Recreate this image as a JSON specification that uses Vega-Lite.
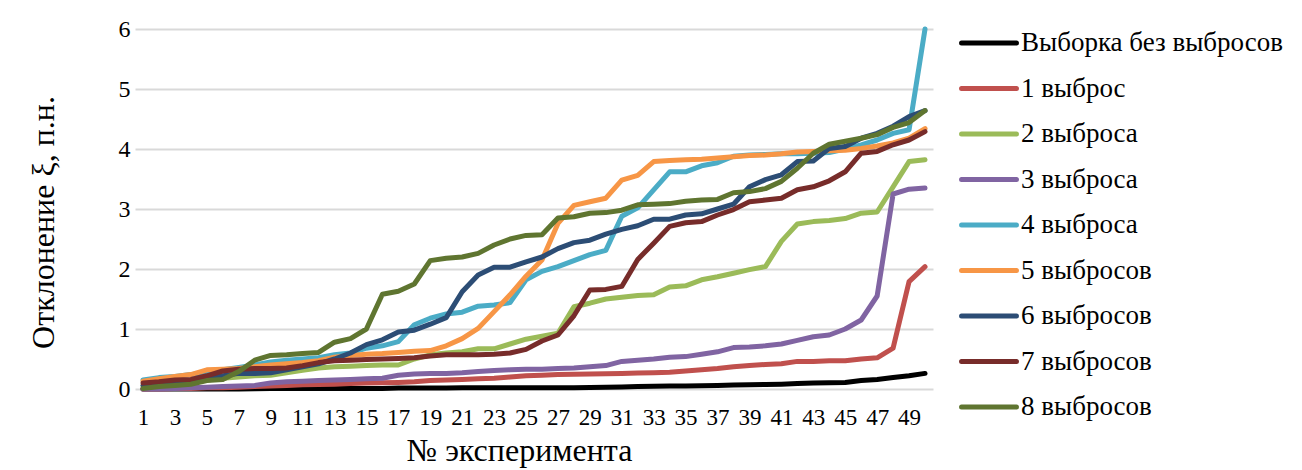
{
"$schema":"https://vega.github.io/schema/vega-lite/v6.json",
"width":798,"height":360,
"autosize":{"type":"none"},
"padding":{"left":135,"top":29,"right":369,"bottom":81},
"background":"white",
"config":{"view":{"stroke":null},"font":"Liberation Serif"},
"datasets":{"d":[
{"s":"Выборка без выбросов","x":1,"v":0},{"s":"Выборка без выбросов","x":2,"v":0},{"s":"Выборка без выбросов","x":3,"v":0},{"s":"Выборка без выбросов","x":4,"v":0},{"s":"Выборка без выбросов","x":5,"v":0},{"s":"Выборка без выбросов","x":6,"v":0},{"s":"Выборка без выбросов","x":7,"v":0},{"s":"Выборка без выбросов","x":8,"v":0.005},{"s":"Выборка без выбросов","x":9,"v":0.01},{"s":"Выборка без выбросов","x":10,"v":0.01},
{"s":"Выборка без выбросов","x":11,"v":0.01},{"s":"Выборка без выбросов","x":12,"v":0.01},{"s":"Выборка без выбросов","x":13,"v":0.01},{"s":"Выборка без выбросов","x":14,"v":0.01},{"s":"Выборка без выбросов","x":15,"v":0.01},{"s":"Выборка без выбросов","x":16,"v":0.01},{"s":"Выборка без выбросов","x":17,"v":0.015},{"s":"Выборка без выбросов","x":18,"v":0.015},{"s":"Выборка без выбросов","x":19,"v":0.015},{"s":"Выборка без выбросов","x":20,"v":0.015},
{"s":"Выборка без выбросов","x":21,"v":0.02},{"s":"Выборка без выбросов","x":22,"v":0.02},{"s":"Выборка без выбросов","x":23,"v":0.02},{"s":"Выборка без выбросов","x":24,"v":0.02},{"s":"Выборка без выбросов","x":25,"v":0.02},{"s":"Выборка без выбросов","x":26,"v":0.02},{"s":"Выборка без выбросов","x":27,"v":0.02},{"s":"Выборка без выбросов","x":28,"v":0.02},{"s":"Выборка без выбросов","x":29,"v":0.025},{"s":"Выборка без выбросов","x":30,"v":0.03},
{"s":"Выборка без выбросов","x":31,"v":0.035},{"s":"Выборка без выбросов","x":32,"v":0.04},{"s":"Выборка без выбросов","x":33,"v":0.045},{"s":"Выборка без выбросов","x":34,"v":0.05},{"s":"Выборка без выбросов","x":35,"v":0.05},{"s":"Выборка без выбросов","x":36,"v":0.055},{"s":"Выборка без выбросов","x":37,"v":0.06},{"s":"Выборка без выбросов","x":38,"v":0.065},{"s":"Выборка без выбросов","x":39,"v":0.07},{"s":"Выборка без выбросов","x":40,"v":0.075},
{"s":"Выборка без выбросов","x":41,"v":0.08},{"s":"Выборка без выбросов","x":42,"v":0.09},{"s":"Выборка без выбросов","x":43,"v":0.1},{"s":"Выборка без выбросов","x":44,"v":0.105},{"s":"Выборка без выбросов","x":45,"v":0.11},{"s":"Выборка без выбросов","x":46,"v":0.14},{"s":"Выборка без выбросов","x":47,"v":0.16},{"s":"Выборка без выбросов","x":48,"v":0.19},{"s":"Выборка без выбросов","x":49,"v":0.22},{"s":"Выборка без выбросов","x":50,"v":0.26},
{"s":"1 выброс","x":1,"v":0},{"s":"1 выброс","x":2,"v":0},{"s":"1 выброс","x":3,"v":0.01},{"s":"1 выброс","x":4,"v":0.01},{"s":"1 выброс","x":5,"v":0.02},{"s":"1 выброс","x":6,"v":0.02},{"s":"1 выброс","x":7,"v":0.03},{"s":"1 выброс","x":8,"v":0.04},{"s":"1 выброс","x":9,"v":0.05},{"s":"1 выброс","x":10,"v":0.06},
{"s":"1 выброс","x":11,"v":0.07},{"s":"1 выброс","x":12,"v":0.075},{"s":"1 выброс","x":13,"v":0.08},{"s":"1 выброс","x":14,"v":0.09},{"s":"1 выброс","x":15,"v":0.1},{"s":"1 выброс","x":16,"v":0.105},{"s":"1 выброс","x":17,"v":0.11},{"s":"1 выброс","x":18,"v":0.12},{"s":"1 выброс","x":19,"v":0.14},{"s":"1 выброс","x":20,"v":0.15},
{"s":"1 выброс","x":21,"v":0.16},{"s":"1 выброс","x":22,"v":0.17},{"s":"1 выброс","x":23,"v":0.18},{"s":"1 выброс","x":24,"v":0.2},{"s":"1 выброс","x":25,"v":0.22},{"s":"1 выброс","x":26,"v":0.23},{"s":"1 выброс","x":27,"v":0.24},{"s":"1 выброс","x":28,"v":0.245},{"s":"1 выброс","x":29,"v":0.25},{"s":"1 выброс","x":30,"v":0.255},
{"s":"1 выброс","x":31,"v":0.26},{"s":"1 выброс","x":32,"v":0.265},{"s":"1 выброс","x":33,"v":0.27},{"s":"1 выброс","x":34,"v":0.28},{"s":"1 выброс","x":35,"v":0.3},{"s":"1 выброс","x":36,"v":0.32},{"s":"1 выброс","x":37,"v":0.34},{"s":"1 выброс","x":38,"v":0.37},{"s":"1 выброс","x":39,"v":0.39},{"s":"1 выброс","x":40,"v":0.41},
{"s":"1 выброс","x":41,"v":0.42},{"s":"1 выброс","x":42,"v":0.46},{"s":"1 выброс","x":43,"v":0.46},{"s":"1 выброс","x":44,"v":0.47},{"s":"1 выброс","x":45,"v":0.47},{"s":"1 выброс","x":46,"v":0.5},{"s":"1 выброс","x":47,"v":0.52},{"s":"1 выброс","x":48,"v":0.68},{"s":"1 выброс","x":49,"v":1.79},{"s":"1 выброс","x":50,"v":2.04},
{"s":"2 выброса","x":1,"v":0.05},{"s":"2 выброса","x":2,"v":0.07},{"s":"2 выброса","x":3,"v":0.1},{"s":"2 выброса","x":4,"v":0.12},{"s":"2 выброса","x":5,"v":0.15},{"s":"2 выброса","x":6,"v":0.18},{"s":"2 выброса","x":7,"v":0.2},{"s":"2 выброса","x":8,"v":0.22},{"s":"2 выброса","x":9,"v":0.23},{"s":"2 выброса","x":10,"v":0.27},
{"s":"2 выброса","x":11,"v":0.31},{"s":"2 выброса","x":12,"v":0.35},{"s":"2 выброса","x":13,"v":0.37},{"s":"2 выброса","x":14,"v":0.38},{"s":"2 выброса","x":15,"v":0.39},{"s":"2 выброса","x":16,"v":0.4},{"s":"2 выброса","x":17,"v":0.4},{"s":"2 выброса","x":18,"v":0.5},{"s":"2 выброса","x":19,"v":0.57},{"s":"2 выброса","x":20,"v":0.6},
{"s":"2 выброса","x":21,"v":0.62},{"s":"2 выброса","x":22,"v":0.67},{"s":"2 выброса","x":23,"v":0.67},{"s":"2 выброса","x":24,"v":0.75},{"s":"2 выброса","x":25,"v":0.83},{"s":"2 выброса","x":26,"v":0.88},{"s":"2 выброса","x":27,"v":0.93},{"s":"2 выброса","x":28,"v":1.37},{"s":"2 выброса","x":29,"v":1.43},{"s":"2 выброса","x":30,"v":1.5},
{"s":"2 выброса","x":31,"v":1.53},{"s":"2 выброса","x":32,"v":1.56},{"s":"2 выброса","x":33,"v":1.57},{"s":"2 выброса","x":34,"v":1.7},{"s":"2 выброса","x":35,"v":1.72},{"s":"2 выброса","x":36,"v":1.82},{"s":"2 выброса","x":37,"v":1.87},{"s":"2 выброса","x":38,"v":1.93},{"s":"2 выброса","x":39,"v":1.99},{"s":"2 выброса","x":40,"v":2.04},
{"s":"2 выброса","x":41,"v":2.46},{"s":"2 выброса","x":42,"v":2.75},{"s":"2 выброса","x":43,"v":2.79},{"s":"2 выброса","x":44,"v":2.81},{"s":"2 выброса","x":45,"v":2.84},{"s":"2 выброса","x":46,"v":2.93},{"s":"2 выброса","x":47,"v":2.95},{"s":"2 выброса","x":48,"v":3.37},{"s":"2 выброса","x":49,"v":3.79},{"s":"2 выброса","x":50,"v":3.82},
{"s":"3 выброса","x":1,"v":0},{"s":"3 выброса","x":2,"v":0},{"s":"3 выброса","x":3,"v":0.01},{"s":"3 выброса","x":4,"v":0.02},{"s":"3 выброса","x":5,"v":0.03},{"s":"3 выброса","x":6,"v":0.04},{"s":"3 выброса","x":7,"v":0.05},{"s":"3 выброса","x":8,"v":0.06},{"s":"3 выброса","x":9,"v":0.1},{"s":"3 выброса","x":10,"v":0.12},
{"s":"3 выброса","x":11,"v":0.13},{"s":"3 выброса","x":12,"v":0.14},{"s":"3 выброса","x":13,"v":0.15},{"s":"3 выброса","x":14,"v":0.16},{"s":"3 выброса","x":15,"v":0.17},{"s":"3 выброса","x":16,"v":0.18},{"s":"3 выброса","x":17,"v":0.23},{"s":"3 выброса","x":18,"v":0.25},{"s":"3 выброса","x":19,"v":0.26},{"s":"3 выброса","x":20,"v":0.26},
{"s":"3 выброса","x":21,"v":0.27},{"s":"3 выброса","x":22,"v":0.29},{"s":"3 выброса","x":23,"v":0.31},{"s":"3 выброса","x":24,"v":0.32},{"s":"3 выброса","x":25,"v":0.33},{"s":"3 выброса","x":26,"v":0.33},{"s":"3 выброса","x":27,"v":0.34},{"s":"3 выброса","x":28,"v":0.35},{"s":"3 выброса","x":29,"v":0.37},{"s":"3 выброса","x":30,"v":0.39},
{"s":"3 выброса","x":31,"v":0.46},{"s":"3 выброса","x":32,"v":0.48},{"s":"3 выброса","x":33,"v":0.5},{"s":"3 выброса","x":34,"v":0.53},{"s":"3 выброса","x":35,"v":0.54},{"s":"3 выброса","x":36,"v":0.58},{"s":"3 выброса","x":37,"v":0.62},{"s":"3 выброса","x":38,"v":0.69},{"s":"3 выброса","x":39,"v":0.7},{"s":"3 выброса","x":40,"v":0.72},
{"s":"3 выброса","x":41,"v":0.75},{"s":"3 выброса","x":42,"v":0.81},{"s":"3 выброса","x":43,"v":0.87},{"s":"3 выброса","x":44,"v":0.9},{"s":"3 выброса","x":45,"v":1.0},{"s":"3 выброса","x":46,"v":1.15},{"s":"3 выброса","x":47,"v":1.55},{"s":"3 выброса","x":48,"v":3.25},{"s":"3 выброса","x":49,"v":3.33},{"s":"3 выброса","x":50,"v":3.35},
{"s":"4 выброса","x":1,"v":0.15},{"s":"4 выброса","x":2,"v":0.19},{"s":"4 выброса","x":3,"v":0.21},{"s":"4 выброса","x":4,"v":0.24},{"s":"4 выброса","x":5,"v":0.28},{"s":"4 выброса","x":6,"v":0.32},{"s":"4 выброса","x":7,"v":0.36},{"s":"4 выброса","x":8,"v":0.4},{"s":"4 выброса","x":9,"v":0.45},{"s":"4 выброса","x":10,"v":0.48},
{"s":"4 выброса","x":11,"v":0.5},{"s":"4 выброса","x":12,"v":0.52},{"s":"4 выброса","x":13,"v":0.57},{"s":"4 выброса","x":14,"v":0.6},{"s":"4 выброса","x":15,"v":0.68},{"s":"4 выброса","x":16,"v":0.72},{"s":"4 выброса","x":17,"v":0.79},{"s":"4 выброса","x":18,"v":1.07},{"s":"4 выброса","x":19,"v":1.18},{"s":"4 выброса","x":20,"v":1.25},
{"s":"4 выброса","x":21,"v":1.28},{"s":"4 выброса","x":22,"v":1.38},{"s":"4 выброса","x":23,"v":1.4},{"s":"4 выброса","x":24,"v":1.44},{"s":"4 выброса","x":25,"v":1.82},{"s":"4 выброса","x":26,"v":1.96},{"s":"4 выброса","x":27,"v":2.04},{"s":"4 выброса","x":28,"v":2.14},{"s":"4 выброса","x":29,"v":2.24},{"s":"4 выброса","x":30,"v":2.31},
{"s":"4 выброса","x":31,"v":2.88},{"s":"4 выброса","x":32,"v":3.02},{"s":"4 выброса","x":33,"v":3.32},{"s":"4 выброса","x":34,"v":3.62},{"s":"4 выброса","x":35,"v":3.62},{"s":"4 выброса","x":36,"v":3.72},{"s":"4 выброса","x":37,"v":3.77},{"s":"4 выброса","x":38,"v":3.88},{"s":"4 выброса","x":39,"v":3.9},{"s":"4 выброса","x":40,"v":3.91},
{"s":"4 выброса","x":41,"v":3.92},{"s":"4 выброса","x":42,"v":3.92},{"s":"4 выброса","x":43,"v":3.93},{"s":"4 выброса","x":44,"v":3.94},{"s":"4 выброса","x":45,"v":4.0},{"s":"4 выброса","x":46,"v":4.07},{"s":"4 выброса","x":47,"v":4.15},{"s":"4 выброса","x":48,"v":4.26},{"s":"4 выброса","x":49,"v":4.32},{"s":"4 выброса","x":50,"v":6.0},
{"s":"5 выбросов","x":1,"v":0.13},{"s":"5 выбросов","x":2,"v":0.17},{"s":"5 выбросов","x":3,"v":0.21},{"s":"5 выбросов","x":4,"v":0.24},{"s":"5 выбросов","x":5,"v":0.32},{"s":"5 выбросов","x":6,"v":0.33},{"s":"5 выбросов","x":7,"v":0.34},{"s":"5 выбросов","x":8,"v":0.37},{"s":"5 выбросов","x":9,"v":0.4},{"s":"5 выбросов","x":10,"v":0.42},
{"s":"5 выбросов","x":11,"v":0.44},{"s":"5 выбросов","x":12,"v":0.47},{"s":"5 выбросов","x":13,"v":0.53},{"s":"5 выбросов","x":14,"v":0.56},{"s":"5 выбросов","x":15,"v":0.58},{"s":"5 выбросов","x":16,"v":0.59},{"s":"5 выбросов","x":17,"v":0.61},{"s":"5 выбросов","x":18,"v":0.63},{"s":"5 выбросов","x":19,"v":0.64},{"s":"5 выбросов","x":20,"v":0.72},
{"s":"5 выбросов","x":21,"v":0.84},{"s":"5 выбросов","x":22,"v":1.01},{"s":"5 выбросов","x":23,"v":1.29},{"s":"5 выбросов","x":24,"v":1.57},{"s":"5 выбросов","x":25,"v":1.88},{"s":"5 выбросов","x":26,"v":2.15},{"s":"5 выбросов","x":27,"v":2.76},{"s":"5 выбросов","x":28,"v":3.06},{"s":"5 выбросов","x":29,"v":3.12},{"s":"5 выбросов","x":30,"v":3.18},
{"s":"5 выбросов","x":31,"v":3.48},{"s":"5 выбросов","x":32,"v":3.56},{"s":"5 выбросов","x":33,"v":3.79},{"s":"5 выбросов","x":34,"v":3.81},{"s":"5 выбросов","x":35,"v":3.82},{"s":"5 выбросов","x":36,"v":3.83},{"s":"5 выбросов","x":37,"v":3.85},{"s":"5 выбросов","x":38,"v":3.87},{"s":"5 выбросов","x":39,"v":3.89},{"s":"5 выбросов","x":40,"v":3.9},
{"s":"5 выбросов","x":41,"v":3.92},{"s":"5 выбросов","x":42,"v":3.95},{"s":"5 выбросов","x":43,"v":3.96},{"s":"5 выбросов","x":44,"v":3.97},{"s":"5 выбросов","x":45,"v":3.98},{"s":"5 выбросов","x":46,"v":4.01},{"s":"5 выбросов","x":47,"v":4.05},{"s":"5 выбросов","x":48,"v":4.1},{"s":"5 выбросов","x":49,"v":4.18},{"s":"5 выбросов","x":50,"v":4.34},
{"s":"6 выбросов","x":1,"v":0.06},{"s":"6 выбросов","x":2,"v":0.08},{"s":"6 выбросов","x":3,"v":0.1},{"s":"6 выбросов","x":4,"v":0.13},{"s":"6 выбросов","x":5,"v":0.18},{"s":"6 выбросов","x":6,"v":0.22},{"s":"6 выбросов","x":7,"v":0.26},{"s":"6 выбросов","x":8,"v":0.26},{"s":"6 выбросов","x":9,"v":0.27},{"s":"6 выбросов","x":10,"v":0.32},
{"s":"6 выбросов","x":11,"v":0.37},{"s":"6 выбросов","x":12,"v":0.42},{"s":"6 выбросов","x":13,"v":0.5},{"s":"6 выбросов","x":14,"v":0.6},{"s":"6 выбросов","x":15,"v":0.74},{"s":"6 выбросов","x":16,"v":0.82},{"s":"6 выбросов","x":17,"v":0.95},{"s":"6 выбросов","x":18,"v":0.98},{"s":"6 выбросов","x":19,"v":1.08},{"s":"6 выбросов","x":20,"v":1.19},
{"s":"6 выбросов","x":21,"v":1.62},{"s":"6 выбросов","x":22,"v":1.9},{"s":"6 выбросов","x":23,"v":2.03},{"s":"6 выбросов","x":24,"v":2.03},{"s":"6 выбросов","x":25,"v":2.12},{"s":"6 выбросов","x":26,"v":2.2},{"s":"6 выбросов","x":27,"v":2.34},{"s":"6 выбросов","x":28,"v":2.44},{"s":"6 выбросов","x":29,"v":2.48},{"s":"6 выбросов","x":30,"v":2.58},
{"s":"6 выбросов","x":31,"v":2.66},{"s":"6 выбросов","x":32,"v":2.72},{"s":"6 выбросов","x":33,"v":2.83},{"s":"6 выбросов","x":34,"v":2.83},{"s":"6 выбросов","x":35,"v":2.9},{"s":"6 выбросов","x":36,"v":2.92},{"s":"6 выбросов","x":37,"v":3.0},{"s":"6 выбросов","x":38,"v":3.08},{"s":"6 выбросов","x":39,"v":3.37},{"s":"6 выбросов","x":40,"v":3.49},
{"s":"6 выбросов","x":41,"v":3.57},{"s":"6 выбросов","x":42,"v":3.79},{"s":"6 выбросов","x":43,"v":3.8},{"s":"6 выбросов","x":44,"v":4.01},{"s":"6 выбросов","x":45,"v":4.04},{"s":"6 выбросов","x":46,"v":4.18},{"s":"6 выбросов","x":47,"v":4.26},{"s":"6 выбросов","x":48,"v":4.38},{"s":"6 выбросов","x":49,"v":4.54},{"s":"6 выбросов","x":50,"v":4.64},
{"s":"7 выбросов","x":1,"v":0.1},{"s":"7 выбросов","x":2,"v":0.12},{"s":"7 выбросов","x":3,"v":0.15},{"s":"7 выбросов","x":4,"v":0.16},{"s":"7 выбросов","x":5,"v":0.22},{"s":"7 выбросов","x":6,"v":0.3},{"s":"7 выбросов","x":7,"v":0.33},{"s":"7 выбросов","x":8,"v":0.34},{"s":"7 выбросов","x":9,"v":0.34},{"s":"7 выбросов","x":10,"v":0.35},
{"s":"7 выбросов","x":11,"v":0.39},{"s":"7 выбросов","x":12,"v":0.44},{"s":"7 выбросов","x":13,"v":0.47},{"s":"7 выбросов","x":14,"v":0.48},{"s":"7 выбросов","x":15,"v":0.49},{"s":"7 выбросов","x":16,"v":0.5},{"s":"7 выбросов","x":17,"v":0.51},{"s":"7 выбросов","x":18,"v":0.52},{"s":"7 выбросов","x":19,"v":0.55},{"s":"7 выбросов","x":20,"v":0.57},
{"s":"7 выбросов","x":21,"v":0.57},{"s":"7 выбросов","x":22,"v":0.57},{"s":"7 выбросов","x":23,"v":0.58},{"s":"7 выбросов","x":24,"v":0.6},{"s":"7 выбросов","x":25,"v":0.66},{"s":"7 выбросов","x":26,"v":0.8},{"s":"7 выбросов","x":27,"v":0.9},{"s":"7 выбросов","x":28,"v":1.22},{"s":"7 выбросов","x":29,"v":1.65},{"s":"7 выбросов","x":30,"v":1.66},
{"s":"7 выбросов","x":31,"v":1.71},{"s":"7 выбросов","x":32,"v":2.16},{"s":"7 выбросов","x":33,"v":2.43},{"s":"7 выбросов","x":34,"v":2.71},{"s":"7 выбросов","x":35,"v":2.77},{"s":"7 выбросов","x":36,"v":2.79},{"s":"7 выбросов","x":37,"v":2.9},{"s":"7 выбросов","x":38,"v":2.99},{"s":"7 выбросов","x":39,"v":3.12},{"s":"7 выбросов","x":40,"v":3.15},
{"s":"7 выбросов","x":41,"v":3.18},{"s":"7 выбросов","x":42,"v":3.32},{"s":"7 выбросов","x":43,"v":3.37},{"s":"7 выбросов","x":44,"v":3.47},{"s":"7 выбросов","x":45,"v":3.62},{"s":"7 выбросов","x":46,"v":3.93},{"s":"7 выбросов","x":47,"v":3.96},{"s":"7 выбросов","x":48,"v":4.07},{"s":"7 выбросов","x":49,"v":4.15},{"s":"7 выбросов","x":50,"v":4.29},
{"s":"8 выбросов","x":1,"v":0.01},{"s":"8 выбросов","x":2,"v":0.04},{"s":"8 выбросов","x":3,"v":0.06},{"s":"8 выбросов","x":4,"v":0.08},{"s":"8 выбросов","x":5,"v":0.14},{"s":"8 выбросов","x":6,"v":0.16},{"s":"8 выбросов","x":7,"v":0.29},{"s":"8 выбросов","x":8,"v":0.48},{"s":"8 выбросов","x":9,"v":0.56},{"s":"8 выбросов","x":10,"v":0.57},
{"s":"8 выбросов","x":11,"v":0.59},{"s":"8 выбросов","x":12,"v":0.61},{"s":"8 выбросов","x":13,"v":0.78},{"s":"8 выбросов","x":14,"v":0.84},{"s":"8 выбросов","x":15,"v":1.0},{"s":"8 выбросов","x":16,"v":1.58},{"s":"8 выбросов","x":17,"v":1.63},{"s":"8 выбросов","x":18,"v":1.75},{"s":"8 выбросов","x":19,"v":2.14},{"s":"8 выбросов","x":20,"v":2.18},
{"s":"8 выбросов","x":21,"v":2.2},{"s":"8 выбросов","x":22,"v":2.26},{"s":"8 выбросов","x":23,"v":2.4},{"s":"8 выбросов","x":24,"v":2.5},{"s":"8 выбросов","x":25,"v":2.56},{"s":"8 выбросов","x":26,"v":2.57},{"s":"8 выбросов","x":27,"v":2.85},{"s":"8 выбросов","x":28,"v":2.87},{"s":"8 выбросов","x":29,"v":2.93},{"s":"8 выбросов","x":30,"v":2.94},
{"s":"8 выбросов","x":31,"v":2.98},{"s":"8 выбросов","x":32,"v":3.07},{"s":"8 выбросов","x":33,"v":3.08},{"s":"8 выбросов","x":34,"v":3.09},{"s":"8 выбросов","x":35,"v":3.13},{"s":"8 выбросов","x":36,"v":3.15},{"s":"8 выбросов","x":37,"v":3.16},{"s":"8 выбросов","x":38,"v":3.27},{"s":"8 выбросов","x":39,"v":3.29},{"s":"8 выбросов","x":40,"v":3.34},
{"s":"8 выбросов","x":41,"v":3.46},{"s":"8 выбросов","x":42,"v":3.68},{"s":"8 выбросов","x":43,"v":3.93},{"s":"8 выбросов","x":44,"v":4.08},{"s":"8 выбросов","x":45,"v":4.13},{"s":"8 выбросов","x":46,"v":4.18},{"s":"8 выбросов","x":47,"v":4.24},{"s":"8 выбросов","x":48,"v":4.36},{"s":"8 выбросов","x":49,"v":4.44},{"s":"8 выбросов","x":50,"v":4.64}
]},
"data":{"name":"d"},
"mark":{"type":"line","strokeWidth":5,"strokeJoin":"round","strokeCap":"round"},
"encoding":{
"x":{"field":"x","type":"quantitative","scale":{"domain":[0.5,50.5],"nice":false,"zero":false},
"axis":{"values":[1,3,5,7,9,11,13,15,17,19,21,23,25,27,29,31,33,35,37,39,41,43,45,47,49],"title":"№ эксперимента","grid":false,"domain":false,"ticks":false,"labelFont":"Liberation Serif","labelFontSize":23,"labelColor":"black","labelPadding":17,"labelFlush":false,"labelOverlap":false,"titleFont":"Liberation Serif","titleFontSize":32,"titleFontWeight":"normal","titleColor":"black","titleX":384,"titleY":71,"titleBaseline":"alphabetic","titleAlign":"center"}},
"y":{"field":"v","type":"quantitative","scale":{"domain":[0,6],"nice":false},
"axis":{"values":[0,1,2,3,4,5,6],"title":"Отклонение ξ, п.н.","grid":true,"gridColor":"#d9d9d9","gridWidth":2,"domain":false,"ticks":false,"labelFont":"Liberation Serif","labelFontSize":24,"labelColor":"black","labelPadding":5,"titleFont":"Liberation Serif","titleFontSize":32,"titleFontWeight":"normal","titleColor":"black","titleX":-82,"titleY":193,"titleAngle":270,"titleBaseline":"alphabetic","titleAlign":"center"}},
"color":{"field":"s","type":"nominal",
"scale":{"domain":["Выборка без выбросов","1 выброс","2 выброса","3 выброса","4 выброса","5 выбросов","6 выбросов","7 выбросов","8 выбросов"],
"range":["#000000","#C0504D","#9BBB59","#8064A2","#4BACC6","#F79646","#2C4D75","#772C2A","#5F7530"]},
"legend":{"orient":"none","legendX":829,"legendY":-11,"title":null,"padding":0,"symbolType":"M-1.22,0H1.22","symbolSize":2025,"symbolStrokeWidth":5,"labelFont":"Liberation Serif","labelFontSize":27,"labelColor":"black","labelOffset":7,"labelLimit":400,"rowPadding":7.5,
"encode":{"symbols":{"update":{"strokeCap":{"value":"round"}}}}}}
}
}
